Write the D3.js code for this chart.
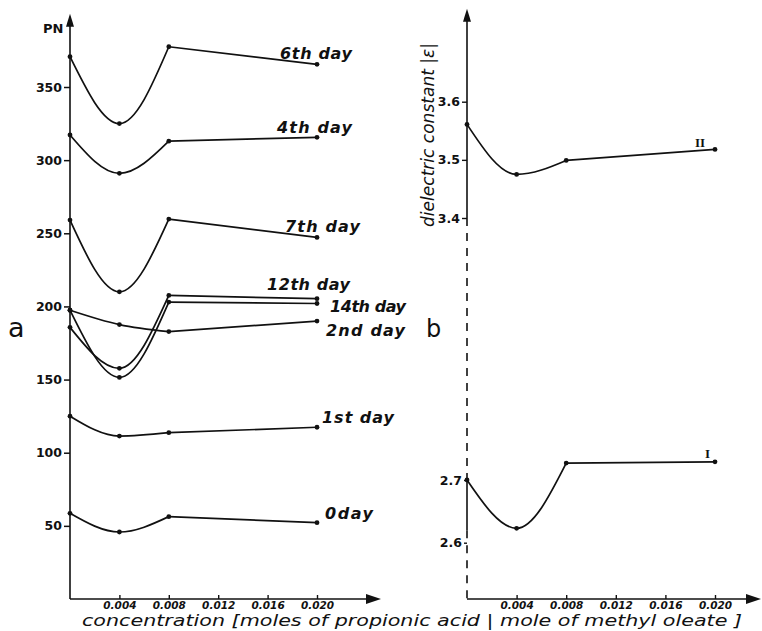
<!DOCTYPE html>
<html>
<head>
<meta charset="utf-8">
<script src="https://cdn.jsdelivr.net/npm/d3@7"></script>
<style>
  body { margin: 0; background: #fff; }
  svg { display: block; }
  .lbl { font-family: "DejaVu Sans", sans-serif; fill: #111; }
</style>
</head>
<body>
<div id="chart"></div>
<script>
// concentration of propionic acid (x values shared by every curve)
var conc = [0, 0.004, 0.008, 0.020];
var concTicks = [0.004, 0.008, 0.012, 0.016, 0.020];

// panel a : PN per storage day
var pnTicks = [50, 100, 150, 200, 250, 300, 350];
var dayNames = ["6th day", "4th day", "7th day", "12th day", "14th day", "2nd day", "1st day", "0day"];
var pn6 = [370.7, 325.0, 377.5, 365.5];
var pn4 = [317.2, 291.0, 313.0, 315.6];
var pn7 = [259.0, 210.0, 259.7, 247.2];
var pn12 = [185.7, 157.7, 207.5, 205.3];
var pn14 = [197.4, 151.5, 203.0, 202.0];
var pn2 = [197.4, 187.6, 182.8, 190.0];
var pn1 = [125.0, 111.4, 113.7, 117.4];
var pn0 = [58.6, 45.8, 56.3, 52.2];
var pnSeries = [pn6, pn4, pn7, pn12, pn14, pn2, pn1, pn0];

// panel b : dielectric constant, curves I and II
var epsNames = ["II", "I"];
var eps2 = [3.561, 3.475, 3.499, 3.518];
var eps1 = [2.700, 2.623, 2.727, 2.729];
var epsTicksUpper = [3.4, 3.5, 3.6];
var epsTicksLower = [2.6, 2.7];

// label offsets from the last point of each curve and label widths (layout only)
var dayLabelOffset = [[-37, -5], [-40, -4], [-32, -5], [-50, -9], [13, 8], [9, 15], [5, -4], [8, -4]];
var dayLabelWidth = [72, 75, 75, 83, 76, 79, 72, 48];

var width = 762, height = 631, axisY = 599;

var svg = d3.select("#chart")
    .append("svg")
      .attr("width", width)
      .attr("height", height);

svg.append("rect").attr("width", width).attr("height", height).attr("fill", "#fff");

var xa = d3.scaleLinear().domain([0, 0.02]).range([70, 317]);
var ya = d3.scaleLinear().domain([0, 350]).range([axisY, 87]);
var xb = d3.scaleLinear().domain([0, 0.02]).range([467, 715]);
var ybU = d3.scaleLinear().domain([3.4, 3.6]).range([218, 101.7]);
var ybL = d3.scaleLinear().domain([2.6, 2.7]).range([542.7, 480]);

function arrowUp(x, y) {
    svg.append("path")
        .attr("d", "M" + x + "," + y + "L" + (x - 4) + "," + (y + 13) + "L" + (x + 4) + "," + (y + 13) + "Z")
        .attr("fill", "#111");
}
function arrowRight(x, y) {
    svg.append("path")
        .attr("d", "M" + x + "," + y + "L" + (x - 15) + "," + (y - 5) + "L" + (x - 15) + "," + (y + 5) + "Z")
        .attr("fill", "#111");
}

// draws the first three points as a smooth curve and the last leg straight
function drawCurve(xs, ys, vals) {
    var pts = conc.map(function(c, i) { return [xs(c), ys(vals[i])]; });
    svg.append("path")
        .attr("fill", "none").attr("stroke", "#111").attr("stroke-width", 1.7)
        .attr("d", d3.line().curve(d3.curveMonotoneX)(pts.slice(0, 3)));
    svg.append("path")
        .attr("fill", "none").attr("stroke", "#111").attr("stroke-width", 1.7)
        .attr("d", d3.line()(pts.slice(2)));
    svg.append("g").selectAll("circle")
        .data(pts)
        .enter()
        .append("circle")
          .attr("cx", function(d) { return d[0]; })
          .attr("cy", function(d) { return d[1]; })
          .attr("r", 2.4)
          .attr("fill", "#111");
    return pts[3];
}

// ---- panel a axes
var axA = svg.append("g")
    .attr("transform", "translate(" + xa(0) + ",0)")
    .call(d3.axisLeft(ya).tickValues(pnTicks).tickSize(6).tickPadding(2));
axA.select(".domain").remove();
axA.selectAll("line").attr("stroke", "#111").attr("stroke-width", 1.5);
axA.selectAll("text").attr("class", "lbl").style("font-size", "12.5px").style("font-weight", "bold");

svg.append("line")
    .attr("x1", xa(0)).attr("x2", xa(0)).attr("y1", axisY).attr("y2", ya(398))
    .attr("stroke", "#111").attr("stroke-width", 1.6);
arrowUp(xa(0), ya(400));

var bxA = svg.append("g")
    .attr("transform", "translate(0," + axisY + ")")
    .call(d3.axisBottom(xa).tickValues(concTicks).tickSize(-4).tickPadding(3)
        .tickFormat(function(d) { return d3.format(".3f")(d); }));
bxA.select(".domain").remove();
bxA.selectAll("line").attr("stroke", "#111").attr("stroke-width", 1.4);
bxA.selectAll("text").attr("class", "lbl").style("font-size", "10.5px").style("font-style", "italic").style("font-weight", "bold");
svg.append("line")
    .attr("x1", xa(0)).attr("x2", 370).attr("y1", axisY).attr("y2", axisY)
    .attr("stroke", "#111").attr("stroke-width", 1.6);
arrowRight(381, axisY);

svg.append("text").attr("class", "lbl")
    .attr("x", 43).attr("y", 33)
    .style("font-size", "13px").style("font-weight", "bold")
    .text("PN");
svg.append("text").attr("class", "lbl")
    .attr("x", 8).attr("y", 337)
    .style("font-size", "27px")
    .text("a");

// ---- panel a curves
pnSeries.forEach(function(vals, i) {
    var end = drawCurve(xa, ya, vals);
    svg.append("text").attr("class", "lbl")
        .attr("x", end[0] + dayLabelOffset[i][0])
        .attr("y", end[1] + dayLabelOffset[i][1])
        .attr("textLength", dayLabelWidth[i]).attr("lengthAdjust", "spacing")
        .style("font-size", "16px").style("font-style", "italic").style("font-weight", "bold")
        .text(dayNames[i]);
});

// ---- panel b axes (broken y axis)
var axU = svg.append("g")
    .attr("transform", "translate(" + xb(0) + ",0)")
    .call(d3.axisLeft(ybU).tickValues(epsTicksUpper).tickSize(5).tickPadding(2).tickFormat(d3.format(".1f")));
var axL = svg.append("g")
    .attr("transform", "translate(" + xb(0) + ",0)")
    .call(d3.axisLeft(ybL).tickValues(epsTicksLower).tickSize(3).tickPadding(2).tickFormat(d3.format(".1f")));
[axU, axL].forEach(function(g) {
    g.select(".domain").remove();
    g.selectAll("line").attr("stroke", "#111").attr("stroke-width", 1.4);
    g.selectAll("text").attr("class", "lbl").style("font-size", "12.5px").style("font-weight", "bold");
});

var axisParts = [
    [ybU(3.74), ybU(3.4), null],
    [ybU(3.4), ybL(2.7), "8,7"],
    [ybL(2.7), ybL(2.62), null],
    [ybL(2.62), axisY, "8,7"]
];
axisParts.forEach(function(p) {
    svg.append("line")
        .attr("x1", xb(0)).attr("x2", xb(0)).attr("y1", p[0]).attr("y2", p[1])
        .attr("stroke", "#111").attr("stroke-width", 1.6)
        .attr("stroke-dasharray", p[2]);
});
arrowUp(xb(0), ybU(3.76));

var bxB = svg.append("g")
    .attr("transform", "translate(0," + axisY + ")")
    .call(d3.axisBottom(xb).tickValues(concTicks).tickSize(-4).tickPadding(3)
        .tickFormat(function(d) { return d3.format(".3f")(d); }));
bxB.select(".domain").remove();
bxB.selectAll("line").attr("stroke", "#111").attr("stroke-width", 1.4);
bxB.selectAll("text").attr("class", "lbl").style("font-size", "10.5px").style("font-style", "italic").style("font-weight", "bold");
svg.append("line")
    .attr("x1", xb(0)).attr("x2", 750).attr("y1", axisY).attr("y2", axisY)
    .attr("stroke", "#111").attr("stroke-width", 1.6);
arrowRight(761, axisY);

svg.append("text").attr("class", "lbl")
    .attr("transform", "translate(434,135) rotate(-90)")
    .attr("textLength", 184).attr("lengthAdjust", "spacing")
    .style("text-anchor", "middle").style("font-size", "17px").style("font-style", "italic")
    .text("dielectric constant |ε|");
svg.append("text").attr("class", "lbl")
    .attr("x", 426).attr("y", 337)
    .style("font-size", "24px")
    .text("b");

// ---- panel b curves
var endII = drawCurve(xb, ybU, eps2);
var endI = drawCurve(xb, ybL, eps1);
svg.append("text").attr("class", "lbl")
    .attr("x", endII[0] - 20).attr("y", endII[1] - 2)
    .style("font-family", "Liberation Serif").style("font-size", "13px").style("font-weight", "bold")
    .text(epsNames[0]);
svg.append("text").attr("class", "lbl")
    .attr("x", endI[0] - 10).attr("y", endI[1] - 4)
    .style("font-family", "Liberation Serif").style("font-size", "13px").style("font-weight", "bold")
    .text(epsNames[1]);

// ---- shared x title
svg.append("text").attr("class", "lbl")
    .attr("x", 82).attr("y", 626)
    .attr("textLength", 660).attr("lengthAdjust", "spacingAndGlyphs")
    .style("font-size", "16px").style("font-style", "italic")
    .text("concentration [moles of propionic acid  | mole of methyl oleate ]");
</script>
</body>
</html>
